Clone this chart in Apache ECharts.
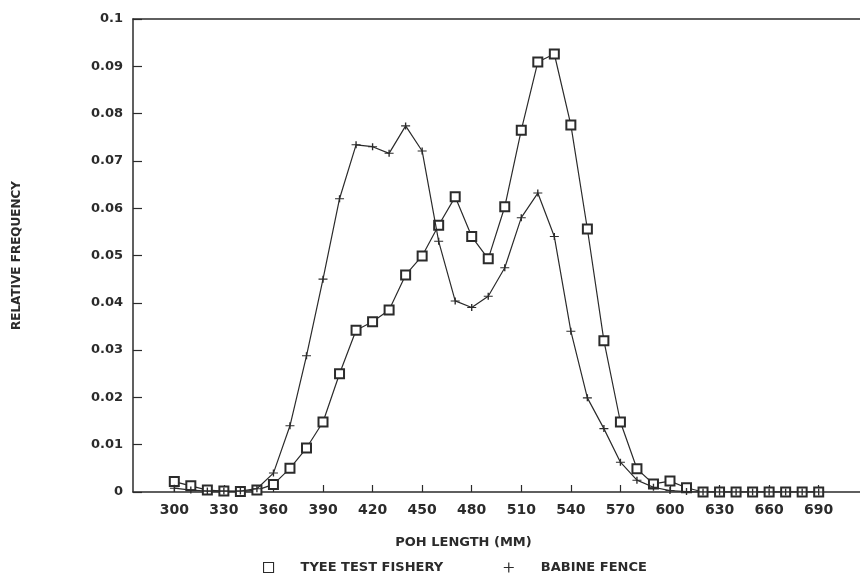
<!DOCTYPE html>
<html>
<head>
<meta charset="utf-8">
<script src="https://cdn.jsdelivr.net/npm/echarts@6/dist/echarts.min.js"></script>
<style>
  html, body { margin: 0; padding: 0; background: #fff; }
  #chart { width: 860px; height: 573px; }
</style>
</head>
<body>
<div id="chart"></div>
<script>
  // POH length classes (mm)
  var lengths = [300, 310, 320, 330, 340, 350, 360, 370, 380, 390,
                 400, 410, 420, 430, 440, 450, 460, 470, 480, 490,
                 500, 510, 520, 530, 540, 550, 560, 570, 580, 590,
                 600, 610, 620, 630, 640, 650, 660, 670, 680, 690];

  var tyee = [0.0022, 0.0013, 0.0004, 0.0002, 0.0001, 0.0004, 0.0016, 0.0050, 0.0093, 0.0148,
              0.0250, 0.0342, 0.0360, 0.0385, 0.0459, 0.0499, 0.0564, 0.0624, 0.0540, 0.0493,
              0.0603, 0.0765, 0.0909, 0.0926, 0.0776, 0.0556, 0.0320, 0.0148, 0.0049, 0.0017,
              0.0023, 0.0009, 0, 0, 0, 0, 0, 0, 0, 0];

  var babine = [0.0008, 0.0004, 0.0002, 0.0002, 0.0002, 0.0007, 0.0040, 0.0140, 0.0288, 0.0450,
                0.0620, 0.0734, 0.0730, 0.0716, 0.0774, 0.0721, 0.0530, 0.0404, 0.0390, 0.0414,
                0.0474, 0.0580, 0.0632, 0.0540, 0.0340, 0.0199, 0.0134, 0.0063, 0.0025, 0.0010,
                0.0003, 0.0001, 0, 0, 0, 0, 0, 0, 0, 0];

  var xTicks = [300, 330, 360, 390, 420, 450, 480, 510, 540, 570, 600, 630, 660, 690];

  function pairs(vals) {
    return lengths.map(function (x, i) { return [x, vals[i]]; });
  }

  var ink = '#2b2b2b';
  var font = 'DejaVu Sans';
  var plus = 'path://M0,5L10,5M5,0L5,10';

  var chart = echarts.init(document.getElementById('chart'));
  chart.setOption({
    animation: false,
    backgroundColor: '#fff',
    grid: { left: 133, top: 19, width: 730, height: 473 },
    xAxis: [
      {
        type: 'value',
        min: 275, max: 715,
        name: 'POH LENGTH (MM)',
        nameLocation: 'middle',
        nameGap: 44,
        nameTextStyle: { color: ink, fontFamily: font, fontWeight: 'bold', fontSize: 13, padding: [0, 66, 0, 0] },
        axisLine: { show: true, lineStyle: { color: ink, width: 1.5 } },
        axisTick: { show: true, inside: true, length: 7, customValues: xTicks, lineStyle: { color: ink, width: 1.2 } },
        axisLabel: { customValues: xTicks, color: ink, fontFamily: font, fontWeight: 'bold', fontSize: 14, margin: 11 },
        splitLine: { show: false }
      },
      {
        // top frame line only
        type: 'value',
        position: 'top',
        min: 275, max: 715,
        axisLine: { show: true, lineStyle: { color: ink, width: 1.5 } },
        axisTick: { show: false },
        axisLabel: { show: false },
        splitLine: { show: false }
      }
    ],
    yAxis: {
      type: 'value',
      min: 0, max: 0.1, interval: 0.01,
      name: 'RELATIVE FREQUENCY',
      nameLocation: 'middle',
      nameRotate: 90,
      nameGap: 110,
      nameTextStyle: { color: ink, fontFamily: font, fontWeight: 'bold', fontSize: 12 },
      axisLine: { show: true, lineStyle: { color: ink, width: 1.5 } },
      axisTick: { show: true, inside: true, length: 9, lineStyle: { color: ink, width: 1.2 } },
      axisLabel: {
        color: ink, fontFamily: font, fontWeight: 'bold', fontSize: 13, margin: 10,
        formatter: function (v) { return String(+v.toFixed(2)); }
      },
      splitLine: { show: false }
    },
    legend: {
      left: 258, top: 556,
      itemWidth: 10, itemHeight: 10,
      itemGap: 60,
      textStyle: { color: ink, fontFamily: font, fontWeight: 'bold', fontSize: 13, padding: [0, 0, 0, 22] },
      data: [
        { name: 'TYEE TEST FISHERY', icon: 'rect', itemStyle: { color: '#fff', borderColor: ink, borderWidth: 1.1 } },
        { name: 'BABINE FENCE', icon: plus, itemStyle: { color: 'transparent', borderColor: ink, borderWidth: 1.2 } }
      ]
    },
    series: [
      {
        name: 'BABINE FENCE',
        type: 'line',
        data: pairs(babine),
        symbol: plus,
        symbolSize: [9, 7],
        showAllSymbol: true,
        lineStyle: { color: ink, width: 1.2 },
        itemStyle: { color: 'transparent', borderColor: ink, borderWidth: 1.2 },
        z: 3
      },
      {
        name: 'TYEE TEST FISHERY',
        type: 'line',
        data: pairs(tyee),
        symbol: 'emptyRect',
        symbolSize: 9,
        showAllSymbol: true,
        lineStyle: { color: ink, width: 1.2 },
        itemStyle: { color: ink, borderWidth: 1 },
        z: 2
      }
    ]
  });
</script>
</body>
</html>
